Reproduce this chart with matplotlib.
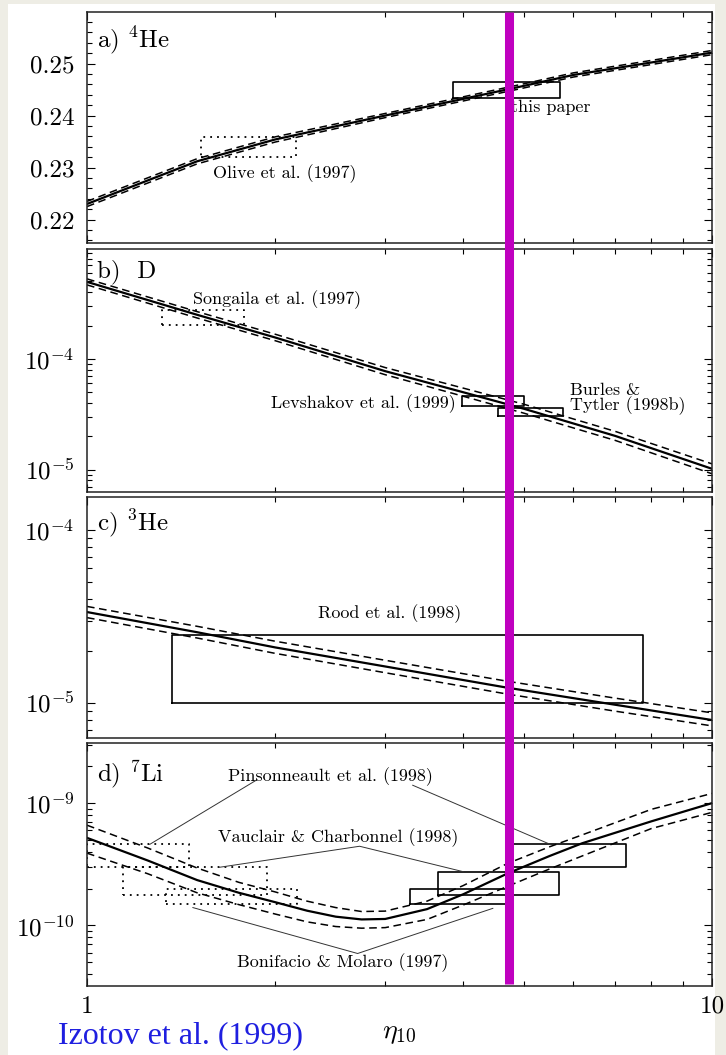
import matplotlib
matplotlib.use('Agg')
import matplotlib.pyplot as plt
from matplotlib import ticker
from matplotlib.lines import Line2D
from matplotlib.patches import Rectangle
from matplotlib.transforms import blended_transform_factory

plt.rcParams['font.family'] = ['cmr10', 'DejaVu Serif']
plt.rcParams['mathtext.fontset'] = 'cm'
plt.rcParams['axes.formatter.use_mathtext'] = True

# ---- data ----
# a) 4He mass fraction
eta_he4 = [1, 1.5, 2, 3, 4, 5, 6, 8, 10]
yp_mid = [0.2230, 0.2312, 0.2354, 0.2400, 0.2432, 0.2457, 0.2478, 0.2502, 0.2521]
yp_hi = [0.2235, 0.2317, 0.2359, 0.2404, 0.2436, 0.2461, 0.2482, 0.2506, 0.2525]
yp_lo = [0.2225, 0.2307, 0.2349, 0.2396, 0.2428, 0.2453, 0.2474, 0.2498, 0.2517]

# b) D/H
eta_d = [1, 1.5, 2, 3, 4, 5, 7, 10]
d_mid = [4.95e-4, 2.5e-4, 1.56e-4, 7.75e-5, 5.0e-5, 3.55e-5, 2.02e-5, 1.02e-5]
d_hi = [5.27e-4, 2.67e-4, 1.67e-4, 8.35e-5, 5.45e-5, 3.9e-5, 2.22e-5, 1.13e-5]
d_lo = [4.65e-4, 2.34e-4, 1.46e-4, 7.2e-5, 4.6e-5, 3.24e-5, 1.84e-5, 0.92e-5]

# c) 3He/H
eta_he3 = [1, 1.5, 2, 3, 4.7, 7, 10]
he3_mid = [3.36e-5, 2.57e-5, 2.1e-5, 1.63e-5, 1.23e-5, 9.8e-6, 8.0e-6]
he3_hi = [3.62e-5, 2.78e-5, 2.28e-5, 1.77e-5, 1.34e-5, 1.07e-5, 8.8e-6]
he3_lo = [3.12e-5, 2.38e-5, 1.94e-5, 1.5e-5, 1.13e-5, 9.0e-6, 7.4e-6]

# d) 7Li/H
eta_li = [1, 1.25, 1.5, 1.75, 2, 2.25, 2.5, 2.75, 3, 3.5, 4, 4.7, 5.5, 6.2, 8, 10]
li_mid = [5.2e-10, 3.4e-10, 2.35e-10, 1.85e-10, 1.55e-10, 1.32e-10, 1.18e-10,
          1.12e-10, 1.13e-10, 1.36e-10, 1.8e-10, 2.65e-10, 3.7e-10, 4.7e-10,
          7.1e-10, 1.0e-9]
li_hi = [6.6e-10, 4.3e-10, 2.95e-10, 2.25e-10, 1.88e-10, 1.58e-10, 1.4e-10,
         1.3e-10, 1.31e-10, 1.58e-10, 2.12e-10, 3.2e-10, 4.4e-10, 5.5e-10,
         8.9e-10, 1.2e-9]
li_lo = [3.9e-10, 2.65e-10, 1.85e-10, 1.48e-10, 1.24e-10, 1.07e-10, 0.98e-10,
         0.95e-10, 0.96e-10, 1.12e-10, 1.47e-10, 2.08e-10, 2.9e-10, 3.7e-10,
         6.2e-10, 8.4e-10]

# observational boxes: (eta_lo, eta_hi, y_lo, y_hi)
olive_box = (1.52, 2.16, 0.2320, 0.2358)
this_paper_box = (3.85, 5.71, 0.2433, 0.2464)
songaila_box = (1.32, 1.78, 2.02e-4, 2.78e-4)
levshakov_box = (3.98, 5.0, 3.75e-5, 4.64e-5)
burles_box = (4.55, 5.78, 3.03e-5, 3.6e-5)
rood_box = (1.37, 7.76, 1.0e-5, 2.47e-5)
li_solid_boxes = [(3.29, 4.78, 1.49e-10, 1.97e-10),
                  (3.64, 5.69, 1.76e-10, 2.72e-10),
                  (4.7, 7.28, 2.99e-10, 4.6e-10)]
li_dotted_boxes = [(1.34, 2.17, 1.49e-10, 1.97e-10),
                   (1.14, 1.94, 1.76e-10, 2.99e-10),
                   (1.0, 1.456, 2.99e-10, 4.6e-10)]

eta_mark = 4.74

# ---- figure ----
W, H = 726, 1055
fig = plt.figure(figsize=(W / 100, H / 100), dpi=100, facecolor='#eeede5')
fig.add_artist(Rectangle((8 / W, 0), (715 - 8) / W, 1 - 4 / H,
                         transform=fig.transFigure, facecolor='white',
                         edgecolor='none', zorder=-10))


def panel(top, bot):
    return fig.add_axes([87 / W, 1 - bot / H, 625 / W, (bot - top) / H])


ax_a = panel(12, 243)
ax_b = panel(249, 492)
ax_c = panel(497, 738)
ax_d = panel(743, 986)
axes = [ax_a, ax_b, ax_c, ax_d]

dash = (0, (5, 3))
dots = (0, (1, 2.8))


def curves(ax, x, mid, hi, lo):
    ax.plot(x, mid, color='black', lw=1.6)
    ax.plot(x, hi, color='black', lw=1.1, ls=dash)
    ax.plot(x, lo, color='black', lw=1.1, ls=dash)


def box(ax, b, ls='-', lw=1.2):
    x0, x1, y0, y1 = b
    ax.plot([x0, x1, x1, x0, x0], [y0, y0, y1, y1, y0], color='black',
            lw=lw, ls=ls)


for ax in axes:
    ax.set_xscale('log')
    ax.set_xlim(1, 10)
    ax.xaxis.set_major_locator(ticker.FixedLocator([1, 10]))
    ax.xaxis.set_minor_locator(ticker.FixedLocator([2, 3, 4, 5, 6, 7, 8, 9]))
    ax.xaxis.set_minor_formatter(ticker.NullFormatter())
    ax.xaxis.set_major_formatter(ticker.NullFormatter())
    ax.tick_params(which='both', direction='in', top=True, right=True,
                   width=0.8, labelsize=18, pad=9)
    ax.tick_params(which='major', length=6)
    ax.tick_params(which='minor', length=3.5)
    for s in ax.spines.values():
        s.set_linewidth(1.1)
        s.set_color('#222222')

for ax in [ax_b, ax_c, ax_d]:
    ax.set_yscale('log')
    ax.yaxis.set_minor_locator(ticker.LogLocator(base=10, subs=range(2, 10), numticks=50))
    ax.yaxis.set_minor_formatter(ticker.NullFormatter())

fs_note = 13

# a) 4He
curves(ax_a, eta_he4, yp_mid, yp_hi, yp_lo)
box(ax_a, olive_box, ls=dots, lw=1.3)
box(ax_a, this_paper_box)
ax_a.set_ylim(0.2155, 0.2599)
ax_a.yaxis.set_major_locator(ticker.MultipleLocator(0.01))
ax_a.yaxis.set_minor_locator(ticker.MultipleLocator(0.002))
ax_a.yaxis.set_major_formatter(ticker.FormatStrFormatter('%.2f'))
ax_a.text(0.016, 0.88, 'a) $^{4}$He', transform=ax_a.transAxes, fontsize=18, va='center')
ax_a.text(1.59, 0.2288, 'Olive et al. (1997)', fontsize=fs_note, va='center')
ax_a.text(4.77, 0.2415, 'this paper', fontsize=fs_note, va='center')

# b) D
curves(ax_b, eta_d, d_mid, d_hi, d_lo)
box(ax_b, songaila_box, ls=dots, lw=1.3)
box(ax_b, levshakov_box)
box(ax_b, burles_box)
ax_b.set_ylim(6.3e-6, 9.8e-4)
ax_b.text(0.016, 0.905, 'b)  D', transform=ax_b.transAxes, fontsize=18, va='center')
ax_b.text(1.48, 3.44e-4, 'Songaila et al. (1997)', fontsize=fs_note, va='center')
ax_b.text(3.89, 3.92e-5, 'Levshakov et al. (1999)', fontsize=fs_note, va='center', ha='right')
ax_b.text(5.93, 4.35e-5, 'Burles &\nTytler (1998b)', fontsize=fs_note, va='center',
          linespacing=0.85)

# c) 3He
curves(ax_c, eta_he3, he3_mid, he3_hi, he3_lo)
box(ax_c, rood_box)
ax_c.set_ylim(6.3e-6, 1.55e-4)
ax_c.text(0.016, 0.89, 'c) $^{3}$He', transform=ax_c.transAxes, fontsize=18, va='center')
ax_c.text(2.34, 3.31e-5, 'Rood et al. (1998)', fontsize=fs_note, va='center')

# d) 7Li
curves(ax_d, eta_li, li_mid, li_hi, li_lo)
for b in li_solid_boxes:
    box(ax_d, b)
for b in li_dotted_boxes:
    box(ax_d, b, ls=dots, lw=1.3)
ax_d.set_ylim(3.2e-11, 3.1e-9)
ax_d.text(0.016, 0.87, 'd) $^{7}$Li', transform=ax_d.transAxes, fontsize=18, va='center')
ax_d.text(1.68, 1.66e-9, 'Pinsonneault et al. (1998)', fontsize=fs_note, va='center')
ax_d.text(1.62, 5.26e-10, 'Vauclair & Charbonnel (1998)', fontsize=fs_note, va='center')
ax_d.text(1.74, 4.98e-11, 'Bonifacio & Molaro (1997)', fontsize=fs_note, va='center')
pointer = dict(color='#333333', lw=0.7)
ax_d.plot([1.87, 1.26], [1.55e-9, 4.6e-10], **pointer)
ax_d.plot([3.32, 5.51], [1.40e-9, 4.6e-10], **pointer)
ax_d.plot([1.63, 2.73, 4.0], [2.99e-10, 4.44e-10, 2.75e-10], **pointer)
ax_d.plot([1.477, 2.71, 4.46], [1.40e-10, 5.9e-11, 1.38e-10], **pointer)

ax_d.xaxis.set_major_formatter(ticker.FixedFormatter(['1', '10']))
ax_d.tick_params(axis='x', which='major', pad=7)
ax_d.set_xlabel(r'$\eta_{10}$', fontsize=20, labelpad=1)

# magenta marker across all panels
trans = blended_transform_factory(ax_a.transData, fig.transFigure)
fig.add_artist(Line2D([eta_mark, eta_mark], [1 - 984 / H, 1 - 12 / H],
                      transform=trans, color='#bf00bf', lw=6.5, zorder=10,
                      solid_capstyle='butt'))

fig.text(58 / W, 1 - 1043 / H, 'Izotov et al. (1999)', color='#1f1fe0',
         fontsize=23, family='Liberation Serif', va='baseline', ha='left')

fig.savefig('out.png', dpi=100, facecolor=fig.get_facecolor())
